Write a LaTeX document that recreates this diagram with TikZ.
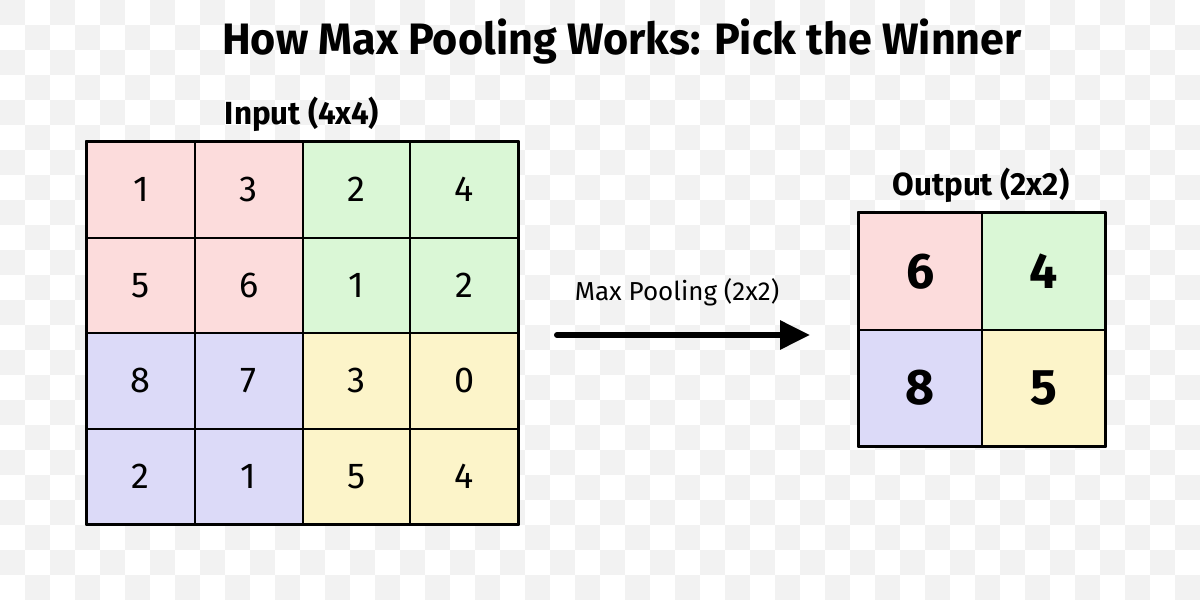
\documentclass[tikz,border=0pt]{standalone}
\usepackage{fontspec}
\setmainfont{Fira Sans}
\newfontfamily\headfont[FakeStretch=0.98]{Fira Sans}
\usetikzlibrary{arrows.meta,positioning}

\definecolor{redish}{HTML}{FCDCDC}
\definecolor{greenish}{HTML}{DAF7D6}
\definecolor{blueish}{HTML}{DCDAF8}
\definecolor{yellowish}{HTML}{FCF4C9}
\definecolor{checker}{HTML}{F2F2F2}

\tikzset{
  incell/.style={draw=black, line width=1pt, minimum width=53.875pt,
    minimum height=47.75pt, inner sep=0pt, font=\fontsize{18}{18}\selectfont},
  outcell/.style={draw=black, line width=1pt, minimum width=61.5pt,
    minimum height=58.25pt, inner sep=0pt, font=\fontsize{25}{25}\selectfont\bfseries},
  heading/.style={font=\headfont\bfseries\fontsize{16}{16}\selectfont, inner sep=0pt}
}

\begin{document}
\begin{tikzpicture}[x=0.5pt, y=-0.5pt, line cap=round, line join=round]

% background checker
\useasboundingbox (0,0) rectangle (1200,600);
\fill[white] (0,0) rectangle (1200,600);
\foreach \i in {0,2,...,46}
  \foreach \j in {0,2,...,22} {
    \fill[checker] (25*\i,25*\j) rectangle ++(25,25);
    \fill[checker] (25*\i+25,25*\j+25) rectangle ++(25,25);
  }

% title
\node[font=\headfont\bfseries\fontsize{22}{22}\selectfont, inner sep=0pt]
  (title) at (622,42) {How Max Pooling Works: Pick the Winner};

% input grid
\node[heading] (inTitle) at (302,114) {Input (4x4)};
\foreach \r/\rowvals in {1/{1/redish,3/redish,2/greenish,4/greenish},
    2/{5/redish,6/redish,1/greenish,2/greenish},
    3/{8/blueish,7/blueish,3/yellowish,0/yellowish},
    4/{2/blueish,1/blueish,5/yellowish,4/yellowish}}
  \foreach \v/\col [count=\c] in \rowvals
    \node[incell, fill=\col] (in-\r-\c)
      at ({87+107.75*(\c-0.5)}, {142+95.5*(\r-0.5)}) {\v};
\draw[line width=1.4pt] (in-1-1.north west) rectangle (in-4-4.south east);

% arrow
\coordinate (arrS) at (557,335);
\coordinate (arrE) at (810,335);
\draw[line width=3pt, -{Triangle[length=15pt, width=14pt]}] (arrS) -- (arrE);
\node[font=\fontsize{13}{13}\selectfont, inner sep=0pt]
  (lblPool) at (677,292) {Max Pooling (2x2)};

% output grid
\node[heading] (outTitle) at (981,185) {Output (2x2)};
\foreach \r/\rowvals in {1/{6/redish,4/greenish}, 2/{8/blueish,5/yellowish}}
  \foreach \v/\col [count=\c] in \rowvals
    \node[outcell, fill=\col] (out-\r-\c)
      at ({859+123*(\c-0.5)}, {213+116.5*(\r-0.5)}) {\v};
\draw[line width=1.4pt] (out-1-1.north west) rectangle (out-2-2.south east);

\end{tikzpicture}
\end{document}
